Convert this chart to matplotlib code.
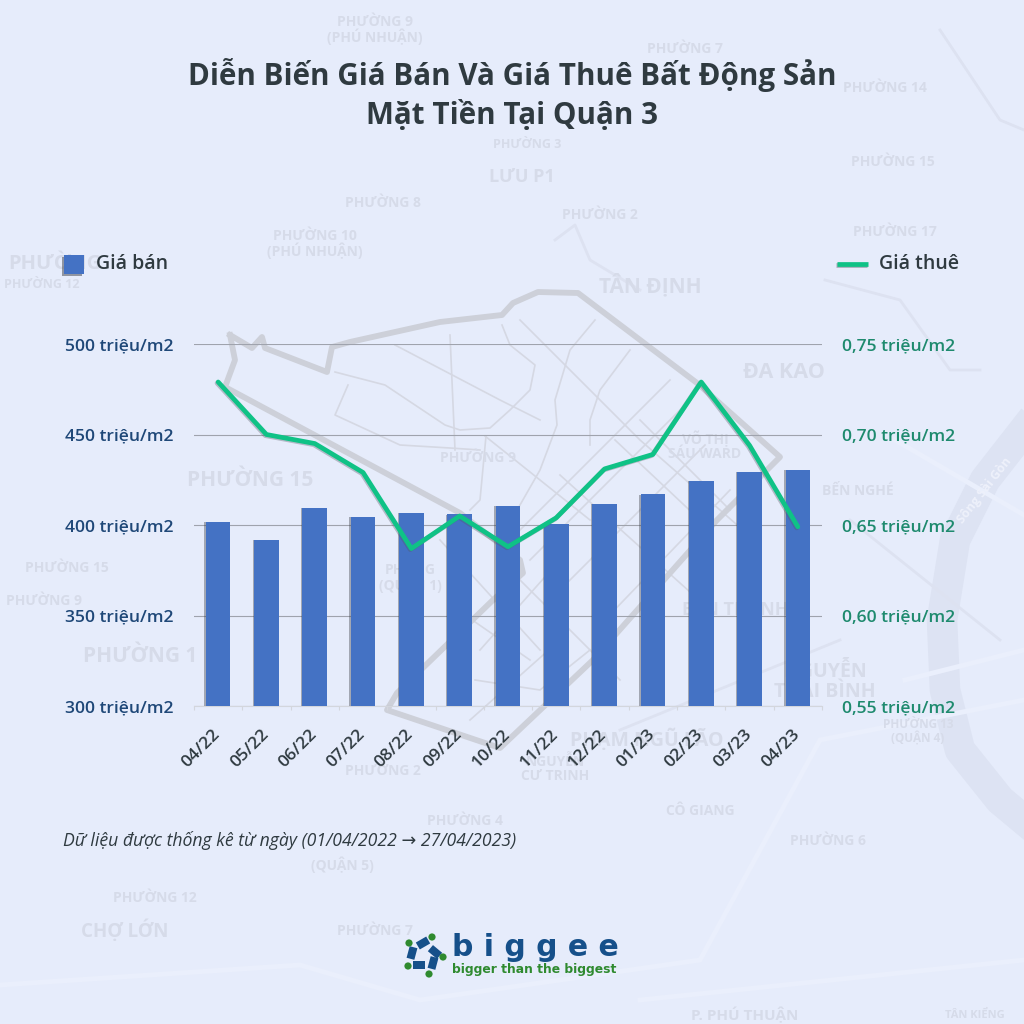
import matplotlib
matplotlib.use('Agg')
import matplotlib.pyplot as plt
import matplotlib.patheffects as pe
from matplotlib.patches import Rectangle, Circle
from matplotlib.transforms import Affine2D, ScaledTranslation

plt.rcParams['font.family'] = ['Open Sans', 'DejaVu Sans']

months = ['04/22','05/22','06/22','07/22','08/22','09/22','10/22','11/22','12/22','01/23','02/23','03/23','04/23']
sale_price = [401.7,391.7,409.4,404.4,406.6,406.0,410.5,400.5,411.6,417.0,424.3,429.3,430.4]
rent_price = [0.729,0.700,0.695,0.679,0.637,0.655,0.638,0.654,0.681,0.689,0.729,0.694,0.649]
left_ticks = [300,350,400,450,500]
right_ticks = [0.55,0.60,0.65,0.70,0.75]
left_labels = [f'{v} triệu/m2' for v in left_ticks]
right_labels = [f'{v:.2f}'.replace('.',',')+' triệu/m2' for v in right_ticks]

BG='#e6ecfb'; BAR='#4472c4'; GREEN='#0fc286'; NAVY='#1f4878'; TEAL='#1e8a6e'; DARK='#2f3a40'
W=H=1024
fig=plt.figure(figsize=(W/100,H/100),dpi=100,facecolor=BG)

# background map layer in pixel coordinates
bg=fig.add_axes([0,0,1,1],zorder=0); bg.set_xlim(0,W); bg.set_ylim(H,0); bg.axis('off')
river_x=[1024,985,955,942,945,960,1000,1024]; river_y=[430,480,540,620,690,750,800,820]
bg.plot(river_x,river_y,color='#dde3f3',lw=22,solid_joinstyle='round',zorder=1)
wide_roads=[([895,1024],[440,515]),([905,1024],[680,650]),([0,300,420,700,820,1024],[985,965,1000,960,740,700]),
            ([640,1024],[1000,960])]
for sx,sy in wide_roads:
    bg.plot(sx,sy,color='#eaeffc',lw=3.5,zorder=1)
faint=[([940,1000,1024],[30,120,130]),([825,900,950,980],[280,300,370,370]),([555,575,590,640],[240,225,260,290]),
       ([620,840],[730,640]),([850,1000],[520,640])]
for sx,sy in faint:
    bg.plot(sx,sy,color='#dde2f1',lw=2,zorder=1)
district_x=[230,252,262,265,327,332,350,440,502,513,538,578,697,780,717,593,500,387,397,493,523,520,460,225,235,230]
district_y=[335,348,337,348,372,347,342,322,315,303,292,293,383,457,520,660,748,710,693,600,573,560,513,387,360,335]
bg.plot(district_x,district_y,color='#cdd0d9',lw=4.2,solid_joinstyle='round',zorder=2)
streets=[([335,385,400,445,460,490,510,530,535,510,502],[372,385,395,425,430,428,410,390,365,345,325]),
 ([348,335,400,450,480],[385,415,445,448,450]),([395,500,540],[345,400,420]),([450,455],[335,450]),
 ([486,480,470],[436,500,510]),([485,540,590],[436,480,520]),([520,640,760],[320,440,545]),
 ([595,570,555,557,540,500],[320,350,400,425,470,540]),([630,600,590,590],[350,390,420,445]),
 ([670,520],[380,530]),([690,530],[400,560]),([705,560],[445,590]),([640,730],[420,510]),([615,700],[440,520]),
 ([560,710],[475,610]),([730,600],[490,625]),([500,620],[560,680]),([440,540],[540,650]),([480,560],[650,560]),
 ([475,540,590],[680,690,650]),([465,530],[615,660]),([470,560],[720,640])]
for sx,sy in streets:
    bg.plot(sx,sy,color='#d5d8e3',lw=1.2,zorder=1)
map_labels=[('PHƯỜNG 9\n(PHÚ NHUẬN)',375,30,10),('PHƯỜNG 7',685,49,10),('PHƯỜNG 14',885,88,10),('PHƯỜNG 3',527,145,9),
 ('PHƯỜNG 15',893,162,10),('LƯU P1',522,177,13),('PHƯỜNG 8',383,203,10),('PHƯỜNG 2',600,215,10),('PHƯỜNG 17',895,232,10),
 ('PHƯỜNG 10\n(PHÚ NHUẬN)',315,244,10),('TÂN ĐỊNH',650,286,15),('PHƯỜNG',55,264,14.5),('PHƯỜNG 12',42,285,9),
 ('ĐA KAO',784,373,15.5),('VÕ THỊ\nSÁU WARD',705,446,10),('PHƯỜNG 9',478,458,10),('PHƯỜNG 15',250,480,15),
 ('BẾN NGHÉ',858,491,10),('PHƯỜNG 15',67,568,10),('PHƯỜNG 9',44,601,10),('PHÙNG\n(QUẬN 1)',410,578,10),
 ('BẾN THÀNH',735,610,13),('PHƯỜNG 1',140,656,15),('NGUYỄN\nTHÁI BÌNH',825,682,14),('PHƯỜNG 13\n(QUẬN 4)',918,732,8.5),
 ('PHẠM NGŨ LÃO',647,740,14),('PHƯỜNG 2',383,771,10),('NGUYỄN\nCƯ TRINH',555,768,10),('PHƯỜNG 4',465,821,10),
 ('CÔ GIANG',700,811,10),('PHƯỜNG 6',828,841,10),('(QUẬN 5)',342,865,10),('PHƯỜNG 12',155,898,10),('CHỢ LỚN',125,931,13.5),
 ('PHƯỜNG 7',375,931,10),('P. PHÚ THUẬN',745,1015,11),('TÂN KIỂNG',975,1015,8)]
for t,x,y,s in map_labels:
    bg.text(x,y,t,color='#d6dbe9',fontsize=s,ha='center',va='center',fontweight='bold',linespacing=1.0,zorder=1)
bg.text(985,490,'Sông Sài Gòn',color='#eef1fb',fontsize=9,rotation=52,ha='center',va='center',fontweight='bold',zorder=2)

def px(l,t,r,b): return [l/W,1-b/H,(r-l)/W,(b-t)/H]
ax=fig.add_axes(px(194,344,822,706),zorder=2); ax.patch.set_alpha(0)
x=list(range(len(months)))
bars=ax.bar(x,sale_price,width=0.51,color=BAR,zorder=3)
for b in bars:
    b.set_path_effects([pe.SimplePatchShadow(offset=(-1.0,-0.3),shadow_rgbFace='#3c4048',alpha=.4),pe.Normal()])
ax.set_xlim(-.5,12.5); ax.set_ylim(300,500)
ax.set_yticks(left_ticks,left_labels)
ax.set_xticks(x,months,rotation=45,ha='right',va='top',rotation_mode='anchor')
ax.set_xticks([i-.5 for i in range(14)],minor=True)
ax.grid(axis='y',color='#9fa3ad',lw=.8,zorder=1); ax.set_axisbelow(True)
for n,s in ax.spines.items(): s.set_visible(n=='bottom')
ax.spines['bottom'].set_color('#d3d6dd'); ax.spines['bottom'].set_linewidth(.8)
ax.tick_params(axis='y',length=0,pad=15,labelsize=12.6,labelcolor=NAVY)
ax.tick_params(axis='x',which='major',length=0,pad=15,labelsize=12.6,labelcolor=DARK)
ax.tick_params(axis='x',which='minor',length=3,width=.8,color='#d3d6dd')
shift=ScaledTranslation(-6/100,0,fig.dpi_scale_trans)
for l in ax.get_xticklabels():
    l.set_transform(l.get_transform()+shift)
for l in ax.get_yticklabels()+ax.get_xticklabels(): l.set_fontweight(600)
ax2=ax.twinx(); ax2.patch.set_alpha(0)
ax2.plot(x,rent_price,color=GREEN,lw=3.4,solid_joinstyle='round',solid_capstyle='round',zorder=4,
         path_effects=[pe.SimpleLineShadow(offset=(-.8,-.8),shadow_color='#555a66',alpha=.35),pe.Normal()])
ax2.set_ylim(.55,.75); ax2.set_yticks(right_ticks,right_labels)
for s in ax2.spines.values(): s.set_visible(False)
ax2.tick_params(axis='y',length=0,pad=14.5,labelsize=12.6,labelcolor=TEAL)
for l in ax2.get_yticklabels(): l.set_fontweight(600)

# top overlay: title, legend, note, logo
ov=fig.add_axes([0,0,1,1],zorder=5); ov.set_xlim(0,W); ov.set_ylim(H,0); ov.axis('off'); ov.patch.set_alpha(0)
ov.text(512,75,'Diễn Biến Giá Bán Và Giá Thuê Bất Động Sản',ha='center',va='center',fontsize=21.3,fontweight='bold',color=DARK)
ov.text(512,116,'Mặt Tiền Tại Quận 3',ha='center',va='center',fontsize=21.3,fontweight='bold',color=DARK)
ov.add_patch(Rectangle((64,255),20,19,facecolor=BAR,edgecolor='none',
    path_effects=[pe.SimplePatchShadow(offset=(-1.2,-1.2),shadow_rgbFace='#3c4048',alpha=.5),pe.Normal()]))
ov.text(96,264,'Giá bán',va='center',fontsize=14,fontweight=600,color=DARK)
ov.plot([837,868],[264,264],color=GREEN,lw=3.4,solid_capstyle='butt',
        path_effects=[pe.SimpleLineShadow(offset=(-.8,-1),shadow_color='#555a66',alpha=.45),pe.Normal()])
ov.text(879,264,'Giá thuê',va='center',fontsize=14,fontweight=600,color=DARK)
ov.text(63,841,'Dữ liệu được thống kê từ ngày (01/04/2022 → 27/04/2023)',va='center',fontsize=12.7,style='italic',color=DARK)

LOGO_BLUE='#16508a'; LOGO_GREEN='#2f8a2f'
for cx,cy,a in [(423,943,-30),(435,952,40),(433,963,-75),(419,965,0),(412,953,-75)]:
    ov.add_patch(Rectangle((cx-6,cy-4),12,8,facecolor=LOGO_BLUE,edgecolor='none',
        transform=Affine2D().rotate_deg_around(cx,cy,a)+ov.transData))
for cx,cy in [(432,937),(443,957),(429,974),(408,966),(409,943)]:
    ov.add_patch(Circle((cx,cy),3.6,facecolor=LOGO_GREEN,edgecolor='none'))
ov.text(452,948,'b i g g e e',va='center',ha='left',fontsize=21.5,fontweight='bold',color=LOGO_BLUE,family='DejaVu Sans')
ov.text(452,970,'bigger than the biggest',va='center',ha='left',fontsize=8.9,fontweight='bold',color=LOGO_GREEN,family='DejaVu Sans')

fig.savefig('out.png',dpi=100,facecolor=BG)
